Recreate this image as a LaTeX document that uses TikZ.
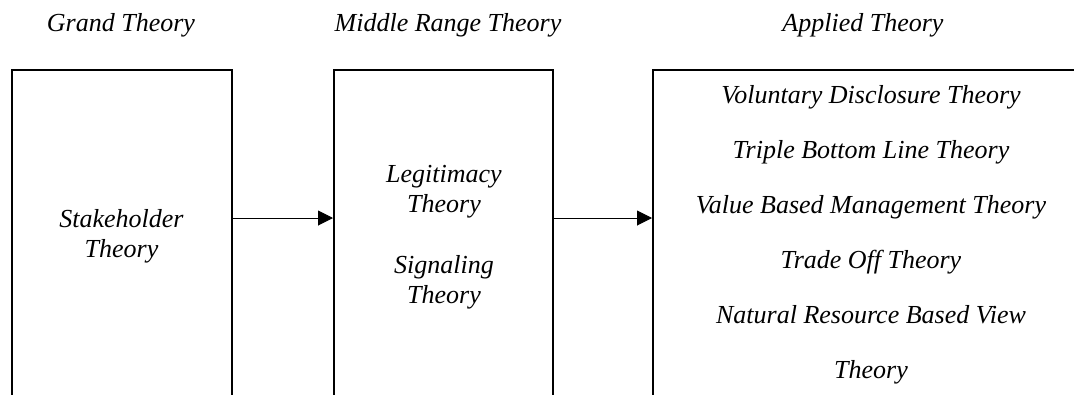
\documentclass[tikz,border=0pt]{standalone}
\usepackage{fontspec}
\setmainfont{Liberation Serif}
\usetikzlibrary{arrows.meta}
\begin{document}
\begin{tikzpicture}[x=1pt,y=-1pt,
  box/.style={draw,line width=2pt,inner sep=0pt,minimum height=400pt},
  txt/.style={font=\itshape\fontsize{26}{30}\selectfont,inner sep=0pt,anchor=base},
  arr/.style={line width=1pt,-{Triangle[length=15pt,width=15pt]}}]
\useasboundingbox (0,0) rectangle (1074,394);
\clip (0,0) rectangle (1074,394);
% titles
\node[txt] (t1) at (121,31) {Grand Theory};
\node[txt] (t2) at (448,31) {Middle Range Theory};
\node[txt] (t3) at (863,31) {Applied Theory};
% boxes
\node[box,minimum width=220pt] (b1) at (122,270) {};
\node[box,minimum width=219pt] (b2) at (443.5,270) {};
\node[box,minimum width=436pt] (b3) at (871,270) {};
% box 1 text
\node[txt] (s1) at (121.5,227) {Stakeholder};
\node[txt] (s2) at (121.5,257) {Theory};
% box 2 text
\node[txt] (m1) at (444,182) {Legitimacy};
\node[txt] (m2) at (444,212) {Theory};
\node[txt] (m3) at (444,273) {Signaling};
\node[txt] (m4) at (444,303) {Theory};
% box 3 text
\node[txt] (a1) at (871,103) {Voluntary Disclosure Theory};
\node[txt] (a2) at (871,158) {Triple Bottom Line Theory};
\node[txt] (a3) at (871,213) {Value Based Management Theory};
\node[txt] (a4) at (871,268) {Trade Off Theory};
\node[txt] (a5) at (871,323) {Natural Resource Based View};
\node[txt] (a6) at (871,378) {Theory};
% arrows
\coordinate (ay) at (0,218);
\draw[arr] (b1.east |- ay) -- (b2.west |- ay);
\draw[arr] (b2.east |- ay) -- (b3.west |- ay);
\end{tikzpicture}
\end{document}
